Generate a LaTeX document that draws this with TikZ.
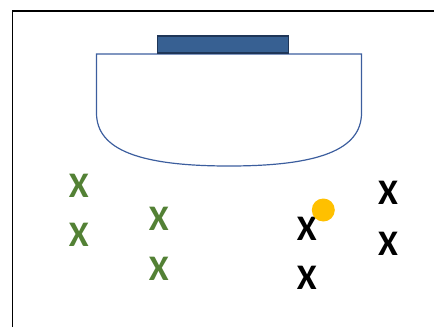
\documentclass[tikz,border=0pt]{standalone}
\usepackage{fontspec}
\setmainfont{Carlito}
\definecolor{barfill}{HTML}{376092}
\definecolor{barline}{HTML}{1F3658}
\definecolor{arealine}{HTML}{3C5E9E}
\definecolor{teamgreen}{HTML}{538135}
\definecolor{ballyellow}{HTML}{FFC000}
\tikzset{
  player/.style={inner sep=0pt, font=\fontsize{36}{36}\selectfont\bfseries},
  home/.style={player, text=teamgreen},
  away/.style={player, text=black},
}
\begin{document}
\begin{tikzpicture}[x=1pt, y=-1pt]
  \useasboundingbox (0,0) rectangle (434,327);
  % pitch frame: left and top touchlines
  \draw[line width=1.8pt] (12.5,327) -- (12.5,11) -- (434,11);
  % goal area (D shape)
  \draw[arealine, line width=1.2pt]
    (229,166) .. controls (140,166) and (96.5,150) .. (96.5,113)
    -- (96.5,54) -- (361.5,54) -- (361.5,113)
    .. controls (361.5,150) and (318,166) .. (229,166);
  % goal
  \node[draw=barline, fill=barfill, line width=1.2pt, minimum width=131pt,
        minimum height=17pt, inner sep=0pt] (goal) at (223.2,44.5) {};
  % players
  \node[home] (g1) at (78.8,185.5) {X};
  \node[home] (g2) at (78.8,234.5) {X};
  \node[home] (g3) at (158.8,219.3) {X};
  \node[home] (g4) at (158.8,268.8) {X};
  \node[away] (b1) at (306.7,229) {X};
  \node[away] (b2) at (306.7,277.5) {X};
  \node[away] (b3) at (388,193.3) {X};
  \node[away] (b4) at (388,244) {X};
  % ball
  \node[circle, fill=ballyellow, minimum size=23pt, inner sep=0pt] (ball) at (323.3,210) {};
\end{tikzpicture}
\end{document}
